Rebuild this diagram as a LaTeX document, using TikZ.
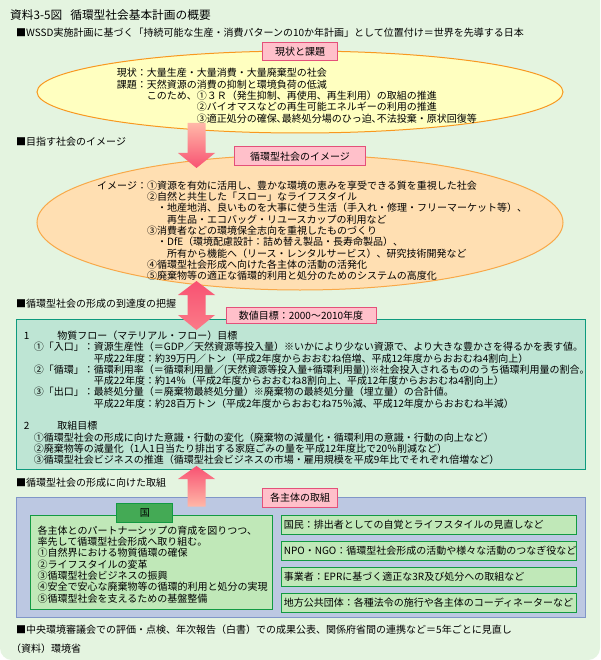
\documentclass[tikz,border=0pt]{standalone}
\usepackage{fontspec}
\setmainfont{Noto Sans CJK JP}
\usepackage{tikz}
\usetikzlibrary{positioning,shapes.geometric}
\usepackage{xcolor}

\definecolor{bgGreen}{HTML}{E4F4E0}
\definecolor{nowFill}{HTML}{FFFFC0}
\definecolor{nowLine}{HTML}{F89820}
\definecolor{visFill}{HTML}{FFDFB2}
\definecolor{visLine}{HTML}{F8A848}
\definecolor{tagFill}{HTML}{FFC0CA}
\definecolor{tagLine}{HTML}{E4507A}
\definecolor{goalFill}{HTML}{BEE5D4}
\definecolor{goalLine}{HTML}{0E9A7E}
\definecolor{actFill}{HTML}{BCC8E2}
\definecolor{actLine}{HTML}{8096C8}
\definecolor{boxFill}{HTML}{C0E8B8}
\definecolor{boxLine}{HTML}{129A42}
\definecolor{tabFill}{HTML}{44AA55}
\definecolor{arrDeep}{HTML}{F85272}
\definecolor{arrPale}{HTML}{FFB8A8}

\begin{document}
\begin{tikzpicture}[x=1pt,y=-1pt,
  txt/.style={anchor=north west,inner sep=0pt,align=left,font=\fontsize{10}{11.3}\selectfont},
  labelbox/.style={draw=tagLine,fill=tagFill,line width=1pt,inner sep=0pt,minimum height=18pt,font=\fontsize{10}{11.3}\selectfont},
  panel/.style={line width=1pt,anchor=north west,inner sep=0pt},
  rolebox/.style={draw=boxLine,fill=boxFill,line width=1pt,anchor=north west,inner xsep=2pt,inner ysep=0pt,text width=290.7pt,minimum height=19.3pt,align=left,font=\fontsize{10}{11.3}\selectfont}]
\useasboundingbox (0,0) rectangle (600,660);
\fill[white] (0,0) rectangle (600,660);
\fill[bgGreen,rounded corners=12pt] (0,-20) rectangle (600,660);

% headings
\node[anchor=west,inner sep=0pt,font=\fontsize{11.7}{14}\selectfont] (title) at (10,15) {資料3-5図\hspace{8pt}循環型社会基本計画の概要};
\node[txt,anchor=west] (wssd) at (16,33) {■WSSD実施計画に基づく「持続可能な生産・消費パターンの10か年計画」として位置付け＝世界を先導する日本};

% present state
\node[ellipse,draw=nowLine,fill=nowFill,line width=1pt,minimum width=526pt,minimum height=82pt,inner sep=0pt] (now) at (300,92) {};
\node[labelbox,minimum width=75pt] (nowtag) at (300,52) {現状と課題};
\node[txt] (nowtxt) at (116.7,68.3) {現状：大量生産・大量消費・大量廃棄型の社会\\
課題：天然資源の消費の抑制と環境負荷の低減\\
\hspace*{3em}このため、①３Ｒ（発生抑制、再使用、再生利用）の取組の推進\\
\hspace*{8em}②バイオマスなどの再生可能エネルギーの利用の推進\\
\hspace*{8em}③適正処分の確保､最終処分場のひっ迫､不法投棄・原状回復等};

% image of the society
\node[txt,anchor=west] (vishead) at (16,141.7) {■目指す社会のイメージ};
\node[ellipse,draw=visLine,fill=visFill,line width=1pt,minimum width=526pt,minimum height=135pt,inner sep=0pt] (vision) at (300,222.5) {};
\shade[top color=arrPale,bottom color=arrDeep] (187.5,123) -- (205.5,123) -- (205.5,153) -- (215,153) -- (196.5,168) -- (178,153) -- (187.5,153) -- cycle;
\node[labelbox,minimum width=131.5pt,minimum height=19pt] (vistag) at (300,156.5) {循環型社会のイメージ};
\node[txt] (vistxt) at (97,180.7) {イメージ：①資源を有効に活用し、豊かな環境の恵みを享受できる質を重視した社会\\
\hspace*{5em}②自然と共生した「スロー」なライフスタイル\\
\hspace*{6em}・地産地消、良いものを大事に使う生活（手入れ・修理・フリーマーケット等）、\\
\hspace*{7em}再生品・エコバッグ・リユースカップの利用など\\
\hspace*{5em}③消費者などの環境保全志向を重視したものづくり\\
\hspace*{6em}・DfE（環境配慮設計：詰め替え製品・長寿命製品）、\\
\hspace*{7em}所有から機能へ（リース・レンタルサービス）、研究技術開発など\\
\hspace*{5em}④循環型社会形成へ向けた各主体の活動の活発化\\
\hspace*{5em}⑤廃棄物等の適正な循環的利用と処分のためのシステムの高度化};

% numerical targets
\node[txt,anchor=west] (goalhead) at (16,303.3) {■循環型社会の形成の到達度の把握};
\node[panel,draw=goalLine,fill=goalFill,minimum width=568.8pt,minimum height=149.7pt] (goal) at (16,319.3) {};
\shade[top color=arrDeep,middle color=arrPale,bottom color=arrDeep!60!arrPale] (196.5,281) -- (215,295) -- (205.5,295) -- (205.5,315) -- (215,315) -- (196.5,330) -- (178,315) -- (187.5,315) -- (187.5,295) -- (178,295) -- cycle;
\node[labelbox,minimum width=150pt,minimum height=15.6pt] (goaltag) at (301,315.5) {数値目標：2000～2010年度};
\node[txt] (goaltxt) at (23.7,330.7) {1\hspace{28pt}物質フロー（マテリアル・フロー）目標\\
\hspace*{1em}①「入口」：資源生産性（＝GDP／天然資源等投入量）※いかにより少ない資源で、より大きな豊かさを得るかを表す値。\\
\hspace*{7em}平成22年度：約39万円／トン（平成2年度からおおむね倍増、平成12年度からおおむね4割向上）\\
\hspace*{1em}②「循環」：循環利用率（＝循環利用量／(天然資源等投入量+循環利用量))※社会投入されるもののうち循環利用量の割合。\\
\hspace*{7em}平成22年度：約14％（平成2年度からおおむね8割向上、平成12年度からおおむね4割向上）\\
\hspace*{1em}③「出口」：最終処分量（＝廃棄物最終処分量）※廃棄物の最終処分量（埋立量）の合計値。\\
\hspace*{7em}平成22年度：約28百万トン（平成2年度からおおむね75％減、平成12年度からおおむね半減）\\[11.3pt]
2\hspace{28pt}取組目標\\
\hspace*{1em}①循環型社会の形成に向けた意識・行動の変化（廃棄物の減量化・循環利用の意識・行動の向上など）\\
\hspace*{1em}②廃棄物等の減量化（1人1日当たり排出する家庭ごみの量を平成12年度比で20％削減など）\\
\hspace*{1em}③循環型社会ビジネスの推進（循環型社会ビジネスの市場・雇用規模を平成9年比でそれぞれ倍増など）};

% actions of each actor
\node[txt,anchor=west] (acthead) at (16,482.7) {■循環型社会の形成に向けた取組};
\node[panel,draw=actLine,fill=actFill,minimum width=569pt,minimum height=120pt] (act) at (16,496.7) {};
\shade[top color=arrDeep,bottom color=arrPale] (196.5,466) -- (215,479) -- (205.5,479) -- (205.5,506.7) -- (187.5,506.7) -- (187.5,479) -- (178,479) -- cycle;
\node[labelbox,minimum width=75pt,minimum height=19pt] (acttag) at (300,497.5) {各主体の取組};

\node[panel,draw=boxLine,fill=boxFill,minimum width=241.8pt,minimum height=94.3pt] (state) at (29.9,515) {};
\node[draw=boxLine,fill=tabFill,line width=1pt,inner sep=0pt,minimum width=56pt,minimum height=19pt,font=\fontsize{10}{11.3}\selectfont] (statetab) at (144.9,512.8) {国};
\node[txt] (statetxt) at (37.5,525.7) {各主体とのパートナーシップの育成を図りつつ、\\
率先して循環型社会形成へ取り組む。\\
①自然界における物質循環の確保\\
②ライフスタイルの変革\\
③循環型社会ビジネスの振興\\
④安全で安心な廃棄物等の循環的利用と処分の実現\\
⑤循環型社会を支えるための基盤整備};

\node[rolebox] (citizen) at (281.3,515) {国民：排出者としての自覚とライフスタイルの見直しなど};
\node[rolebox,below=5.7pt of citizen] (npo) {NPO・NGO：循環型社会形成の活動や様々な活動のつなぎ役など};
\node[rolebox,below=5.7pt of npo] (business) {事業者：EPRに基づく適正な3R及び処分への取組など};
\node[rolebox,below=5.7pt of business] (local) {地方公共団体：各種法令の施行や各主体のコーディネーターなど};

% review and source
\node[txt,anchor=west] (review) at (16,629.3) {■中央環境審議会での評価・点検、年次報告（白書）での成果公表、関係府省間の連携など＝5年ごとに見直し};
\node[txt,anchor=west] (source) at (11,648.3) {（資料）環境省};
\end{tikzpicture}
\end{document}
